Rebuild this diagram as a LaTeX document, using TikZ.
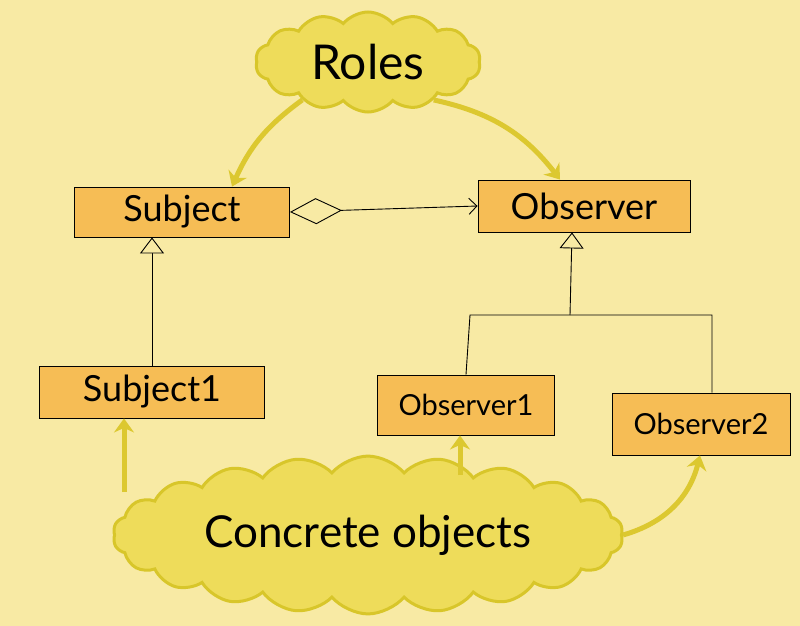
\documentclass[tikz,border=0pt]{standalone}
\usepackage{fontspec}
\setmainfont{Lato}
\usetikzlibrary{shapes.symbols,shapes.geometric,arrows.meta,positioning}
\definecolor{bg}{HTML}{F8EAA4}
\definecolor{cloudfill}{HTML}{EEDC5A}
\definecolor{clouddraw}{HTML}{D8C62A}
\definecolor{boxfill}{HTML}{F6BD55}
\definecolor{arr}{HTML}{DCC830}
\tikzset{
  cloudn/.style={cloud, cloud puffs=14, cloud puff arc=100, fill=cloudfill, draw=clouddraw, line width=3pt, inner sep=0pt},
  cls/.style={draw=black, line width=0.9pt, fill=boxfill, inner sep=0pt, font=\fontsize{36}{42}\selectfont},
  yarr/.style={draw=arr, line width=5pt, -{Stealth[length=14pt,width=20pt]}},
  inh/.style={line width=0.9pt, -{Triangle[open,length=16pt,width=24pt,fill=bg]}},
}
\begin{document}
\begin{tikzpicture}[x=1pt,y=-1pt]
\fill[bg] (0,0) rectangle (800,626);
\useasboundingbox (0,0) rectangle (800,626);
\node[cloudn, aspect=2.3, minimum width=225, minimum height=100, font=\fontsize{48}{54}\selectfont] (roles) at (368,62) {Roles};
\node[cloudn, aspect=3.6, cloud puffs=22, minimum width=510, minimum height=135, font=\fontsize{44}{50}\selectfont] (conc) at (368,535) {Concrete objects};
\node[cls, minimum width=215, minimum height=50] (subj) at (182,212) {Subject};
\node[cls, minimum width=212, minimum height=52] (obs) at (584,206) {Observer};
\node[cls, minimum width=225, minimum height=52] (subj1) at (152,392) {Subject1};
\node[cls, minimum width=177, minimum height=60, font=\fontsize{29}{34}\selectfont] (obs1) at (466,405) {Observer1};
\node[cls, minimum width=178, minimum height=62, font=\fontsize{29}{34}\selectfont] (obs2) at (701,424) {Observer2};
\coordinate (c1) at (124,492);
\coordinate (c2) at (460,475);
% yellow arrows
\draw[yarr] (roles.210) to[bend right=15] (subj.north -| 232,0);
\draw[yarr] (roles.-30) to[bend left=20] (obs.north -| 560,0);
\draw[yarr] (c1) -- (subj1.south -| 124,0);
\draw[yarr] (c2) -- (obs1.south -| 460,0);
\draw[yarr] (conc.east) to[bend right=30] (obs2.south -| 700,0);
% association
\draw[line width=0.9pt, {Diamond[open,length=52pt,width=26pt,fill=bg]}-{Straight Barb[length=8pt]}] (subj.east) -- (obs.west);
% inheritance
\draw[inh] (subj1.north -| 152,0) -- (subj.south -| 152,0);
\coordinate (j) at (570,315);
\draw[inh] (j) -- (obs.south -| 572,0);
\draw[line width=0.9pt] (obs1.north -| 466,0) -- (470,315) -- (712,315) -- (obs2.north -| 712,0);
\end{tikzpicture}
\end{document}
